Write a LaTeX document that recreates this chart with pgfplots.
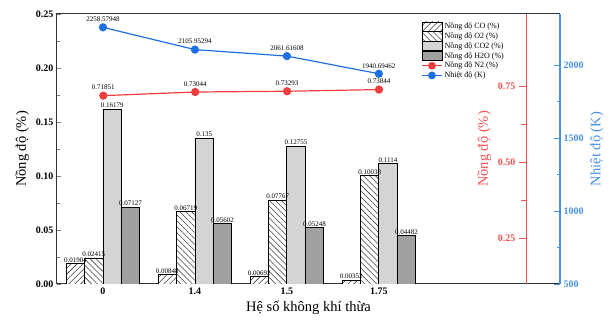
\documentclass[border=0pt]{standalone}
\usepackage{pgfplots}
\pgfplotsset{compat=1.18}
\usepackage{fontspec}
\setmainfont{Liberation Serif}
\usetikzlibrary{patterns,patterns.meta}
\definecolor{nred}{RGB}{240,62,62}
\definecolor{redax}{RGB}{245,80,80}
\definecolor{nblue}{RGB}{30,112,226}
\definecolor{bluax}{RGB}{74,144,226}
\definecolor{co2}{RGB}{212,212,212}
\definecolor{h2o}{RGB}{160,160,160}
\pgfplotsset{
  lbl/.style={draw=none, mark=none, forget plot, nodes near coords, point meta=explicit symbolic,
    every node near coord/.append style={font=\fontsize{7}{8}\selectfont, inner sep=1pt, black, anchor=south}},
  barleg/.style={legend image code/.code={\draw[##1] (0pt,-4.6pt) rectangle (20pt,4.6pt);}},
  lineleg/.style={legend image code/.code={\draw[##1,mark repeat=2,mark phase=2] plot coordinates {(0pt,0pt) (10pt,0pt) (20pt,0pt)};}},
}
\begin{document}
\begin{tikzpicture}
\useasboundingbox (-57pt,-45pt) rectangle (554pt,284pt);
\begin{axis}[
  scale only axis, width=503pt, height=270pt,
  xmin=-0.5, xmax=4.97, ymin=0, ymax=0.25,
  xtick={0,1,2,3}, xticklabels={0,1.4,1.5,1.75},
  ytick={0,0.05,0.1,0.15,0.2,0.25},
  minor y tick num=1,
  tick align=inside,
  major x tick style={draw=none},
  ytick pos=left, xtick pos=bottom,
  yticklabel style={/pgf/number format/.cd,fixed,fixed zerofill,precision=2},
  /pgf/number format/assume math mode=true,
  tick label style={font=\fontsize{10}{12}\selectfont\bfseries},
  xlabel={Hệ số không khí thừa}, ylabel={Nồng độ (\%)},
  label style={font=\fontsize{14.5}{17}\selectfont},
  axis line style={line width=1pt, black!80},
  legend style={at={(0.724,0.975)}, anchor=north west, draw=none, fill=none,
    font=\fontsize{8}{9}\selectfont, row sep=-1.5pt, inner sep=0pt},
  legend cell align=left,
]
\addplot[ybar, bar width=0.2, bar shift=-0.3, draw=black, line width=0.8pt, fill=white,
  postaction={pattern={Lines[angle=45,distance=4.2pt,line width=0.55pt]}, pattern color=black!75}, barleg]
  coordinates {(0,0.01904) (1,0.00848) (2,0.00692) (3,0.00352)};
\addlegendentry{Nồng độ CO (\%)}
\addplot[lbl] coordinates {(-0.3,0.01904) [0.01904] (0.7,0.00848) [0.00848] (1.7,0.00692) [0.00692] (2.7,0.00352) [0.00352]};
\addplot[ybar, bar width=0.2, bar shift=-0.1, draw=black, line width=0.8pt, fill=white,
  postaction={pattern={Lines[angle=-45,distance=4.2pt,line width=0.55pt]}, pattern color=black!75}, barleg]
  coordinates {(0,0.02415) (1,0.06719) (2,0.07767) (3,0.10038)};
\addlegendentry{Nồng độ O2 (\%)}
\addplot[lbl] coordinates {(-0.1,0.02415) [0.02415] (0.9,0.06719) [0.06719] (1.9,0.07767) [0.07767] (2.9,0.10038) [0.10038]};
\addplot[ybar, bar width=0.2, bar shift=0.1, draw=black, line width=0.8pt, fill=co2, barleg]
  coordinates {(0,0.16179) (1,0.135) (2,0.12755) (3,0.1114)};
\addlegendentry{Nồng độ CO2 (\%)}
\addplot[lbl] coordinates {(0.1,0.16179) [0.16179] (1.1,0.135) [0.135] (2.1,0.12755) [0.12755] (3.1,0.1114) [0.1114]};
\addplot[ybar, bar width=0.2, bar shift=0.3, draw=black, line width=0.8pt, fill=h2o, barleg]
  coordinates {(0,0.07127) (1,0.05602) (2,0.05248) (3,0.04482)};
\addlegendentry{Nồng độ H2O (\%)}
\addplot[lbl] coordinates {(0.3,0.07127) [0.07127] (1.3,0.05602) [0.05602] (2.3,0.05248) [0.05248] (3.3,0.04482) [0.04482]};
\addlegendimage{nred, line width=1.2pt, mark=*, mark size=3.3pt, lineleg}
\addlegendentry{Nồng độ N2 (\%)}
\addlegendimage{nblue, line width=1.2pt, mark=*, mark size=3.3pt, lineleg}
\addlegendentry{Nhiệt độ (K)}
\end{axis}

\begin{axis}[
  at={(469pt,0pt)}, anchor=south west,
  scale only axis, width=34pt, height=270pt,
  xmin=4.6, xmax=4.97, ymin=0.099, ymax=0.987,
  axis x line=none, axis y line*=left, clip=false,
  ytick={0.25,0.5,0.75}, minor y tick num=1, tick align=outside,
  y axis line style={redax, line width=1pt},
  major tick length=7pt, minor tick length=5pt,
  every tick/.style={redax, line width=0.9pt},
  yticklabel style={redax, font=\fontsize{10}{12}\selectfont\bfseries,
    /pgf/number format/.cd,fixed,fixed zerofill,precision=2},
  /pgf/number format/assume math mode=true,
  ylabel={Nồng độ (\%)},
  ylabel style={redax, font=\fontsize{14.5}{17}\selectfont},
]
\addplot[nred, line width=1.2pt, mark=*, mark size=3.5pt, nodes near coords, point meta=explicit symbolic,
  every node near coord/.append style={font=\fontsize{7}{8}\selectfont, black, inner sep=1pt, yshift=4pt}]
  coordinates {(0,0.71851) [0.71851] (1,0.73044) [0.73044] (2,0.73293) [0.73293] (3,0.73844) [0.73844]};
\end{axis}

\begin{axis}[
  scale only axis, width=503pt, height=270pt,
  xmin=-0.5, xmax=4.97, ymin=500, ymax=2350,
  axis x line=none, axis y line*=right, clip=false,
  ytick={500,1000,1500,2000}, minor y tick num=1, tick align=inside,
  y axis line style={bluax, line width=1.3pt},
  major tick length=6pt, minor tick length=3.5pt,
  every tick/.style={bluax, line width=0.9pt},
  yticklabel style={bluax, font=\fontsize{10}{12}\selectfont\bfseries,
    /pgf/number format/.cd,fixed,1000 sep={}},
  /pgf/number format/assume math mode=true,
  ylabel={Nhiệt độ (K)},
  ylabel style={bluax, font=\fontsize{14.5}{17}\selectfont},
]
\addplot[nblue, line width=1.2pt, mark=*, mark size=3.5pt, nodes near coords, point meta=explicit symbolic,
  every node near coord/.append style={font=\fontsize{7}{8}\selectfont, black, inner sep=1pt, yshift=4pt}]
  coordinates {(0,2258.57948) [2258.57948] (1,2105.95294) [2105.95294] (2,2061.61608) [2061.61608] (3,1940.69462) [1940.69462]};
\end{axis}
\end{tikzpicture}
\end{document}
